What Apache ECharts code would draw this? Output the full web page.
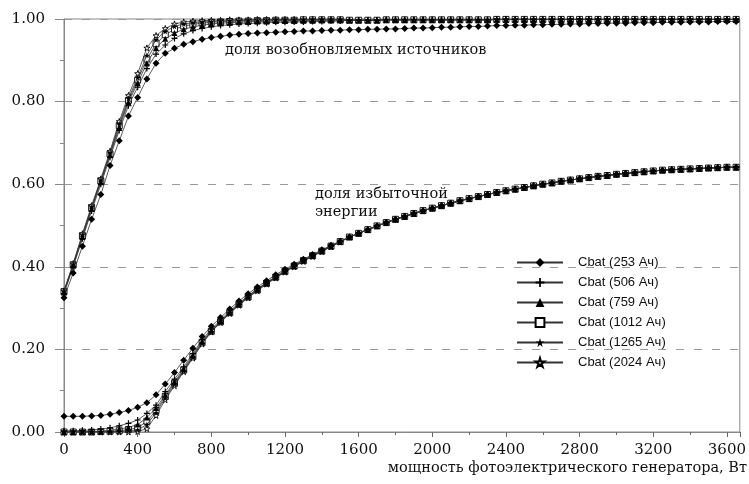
<!DOCTYPE html>
<head>
<meta charset="utf-8">
<title>ECharts</title>
</head>
<body style="margin:0">
<div id="main" style="width: 749px; height: 484px"></div>
<script src="https://cdn.jsdelivr.net/npm/echarts@6/dist/echarts.min.js"></script>
<script>
// мощность ФЭГ, Вт (шаг 50)
var powerW = [0,50,100,150,200,250,300,350,400,450,500,550,600,650,700,750,800,850,900,950,
    1000,1050,1100,1150,1200,1250,1300,1350,1400,1450,1500,1550,1600,1650,1700,1750,1800,1850,1900,1950,
    2000,2050,2100,2150,2200,2250,2300,2350,2400,2450,2500,2550,2600,2650,2700,2750,2800,2850,2900,2950,
    3000,3050,3100,3150,3200,3250,3300,3350,3400,3450,3500,3550,3600,3650];

var batteries = ['Cbat (253 Ач)', 'Cbat (506 Ач)', 'Cbat (759 Ач)', 'Cbat (1012 Ач)', 'Cbat (1265 Ач)', 'Cbat (2024 Ач)'];
var yTicks = [0, 0.2, 0.4, 0.6, 0.8, 1.0];

// доля возобновляемых источников, 0..1500 Вт
var renew253 = [.325,.385,.450,.515,.575,.645,.705,.765,.810,.855,.893,.917,.929,.939,.945,.951,.955,.958,.961,.963,
    .965,.966,.967,.968,.969,.970,.971,.971,.972,.973,.973];
var renew506 = [.335,.400,.468,.535,.600,.665,.730,.790,.835,.880,.915,.937,.953,.964,.972,.977,.981,.984,.986,.988,
    .989,.990,.991,.992,.992,.993,.993,.994,.994,.995,.995];
var renew759 = [.338,.403,.472,.540,.605,.670,.737,.798,.845,.893,.930,.952,.966,.975,.981,.985,.988,.990,.991,.992,
    .993,.994,.994,.995,.995,.996,.996,.996,.997,.997,.997];
var renew1012 = [.340,.405,.475,.543,.608,.673,.742,.803,.852,.903,.940,.962,.975,.983,.987,.990,.992,.993,.994,.995,
    .995,.996,.996,.997,.997,.997,.998,.998,.998,.998,.998];
var renew1265 = [.341,.406,.477,.545,.610,.676,.746,.808,.858,.912,.950,.970,.982,.988,.991,.993,.994,.995,.996,.996,
    .997,.997,.997,.998,.998,.998,.998,.999,.999,.999,.999];
var renew2024 = [.342,.408,.480,.548,.613,.680,.752,.815,.868,.930,.960,.977,.988,.993,.995,.996,.997,.997,.998,.998,
    .998,.999,.999,.999,.999,.999,.999,.999,.999,.999,.999];
// 1550..3650 Вт
var renewTail253 = [.974,.974,.975,.975,.976,.976,.977,.978,.978,.979,.980,.980,.981,.982,.982,.983,.984,.984,.985,.985,
    .986,.986,.987,.987,.988,.988,.989,.989,.990,.990,.990,.991,.991,.991,.992,.992,.992,.993,.993,.993,.994,.994,.994];
var renewTail = [.997,.997,.997,.997,.998,.998,.998,.998,.998,.998,.998,.998,.998,.998,.998,.998,.999,.999,.999,.999,
    .999,.999,.999,.999,.999,.999,.999,.999,.999,.999,.999,.999,.999,.999,.999,.999,.999,.999,.999,.999,.999,.999,.999];

// доля избыточной энергии, 0..1500 Вт
var excess253 = [.038,.038,.038,.039,.040,.043,.047,.052,.060,.071,.090,.116,.144,.174,.203,.231,.256,.277,.298,.317,
    .335,.351,.366,.381,.394,.406,.418,.430,.441,.452,.462];
var excess506 = [.003,.003,.004,.005,.007,.010,.015,.021,.029,.045,.065,.098,.128,.158,.190,.223,.249,.271,.293,.312,
    .330,.347,.362,.377,.391,.403,.416,.428,.439,.450,.461];
var excess759 = [.000,.000,.001,.001,.002,.004,.007,.011,.018,.035,.058,.090,.122,.153,.186,.219,.246,.268,.290,.310,
    .328,.345,.361,.376,.390,.402,.415,.427,.439,.450,.461];
var excess1012 = [.000,.000,.000,.000,.001,.002,.003,.006,.010,.026,.052,.086,.118,.150,.183,.217,.244,.267,.289,.309,
    .327,.344,.360,.375,.389,.402,.415,.427,.438,.450,.461];
var excess1265 = [.000,.000,.000,.000,.000,.001,.001,.003,.005,.018,.047,.082,.115,.148,.181,.215,.243,.266,.288,.308,
    .326,.343,.359,.374,.388,.401,.414,.426,.438,.449,.460];
var excess2024 = [.000,.000,.000,.000,.000,.000,.000,.000,.001,.008,.040,.078,.112,.146,.179,.213,.242,.265,.287,.307,
    .325,.342,.358,.373,.387,.400,.413,.425,.437,.449,.460];
// 1550..3650 Вт
var excessTail = [.472,.481,.490,.499,.507,.515,.522,.529,.536,.542,.548,.554,.560,.565,.570,.575,.580,.584,.588,.592,
    .596,.600,.603,.607,.610,.613,.616,.619,.621,.624,.626,.628,.630,.632,.634,.635,.636,.637,.638,.639,.640,.641,.641];

var renewData = [renew253.concat(renewTail253), renew506.concat(renewTail), renew759.concat(renewTail),
    renew1012.concat(renewTail), renew1265.concat(renewTail), renew2024.concat(renewTail)];
var excessData = [excess253, excess506, excess759, excess1012, excess1265, excess2024].map(function (a) {
    return a.concat(excessTail);
});

var plusPath = 'path://M4,0h2v4h4v2h-4v4h-2v-4h-4v-2h4z';
var starPath = 'path://M50,0L61,35L98,35L68,57L79,91L50,70L21,91L32,57L2,35L39,35Z';
var symbols = ['diamond', plusPath, 'triangle', 'rect', starPath, starPath];
var hollow = [false, false, false, true, false, true];
var serif = 'DejaVu Serif';

function makeSeries(i, vals) {
    return {
        name: batteries[i],
        type: 'line',
        data: powerW.map(function (w, k) { return [w, vals[k]]; }),
        symbol: symbols[i],
        symbolSize: i === 0 ? 7 : 6,
        showAllSymbol: true,
        z: hollow[i] ? 2 : 3,
        lineStyle: {color: '#333', width: 0.8},
        itemStyle: hollow[i] ? {color: '#fff', borderColor: '#000', borderWidth: 0.9} : {color: '#000'},
        emphasis: {disabled: true},
        animation: false
    };
}

var series = [];
for (var i = 0; i < batteries.length; i++) {
    series.push(makeSeries(i, renewData[i]));
    series.push(makeSeries(i, excessData[i]));
}

var myChart = echarts.init(document.getElementById('main'));
myChart.setOption({
    backgroundColor: '#fff',
    grid: {left: 64, right: 2, top: 19, bottom: 52, show: true, borderColor: '#888', borderWidth: 1},
    legend: {
        data: batteries,
        orient: 'vertical',
        left: 516,
        top: 256,
        padding: 0,
        itemWidth: 46,
        itemHeight: 11,
        itemGap: 7,
        textStyle: {fontFamily: 'Liberation Sans', fontSize: 13, color: '#111', padding: [0, 0, 0, 10]}
    },
    xAxis: {
        type: 'value',
        min: 0,
        max: 3670,
        interval: 400,
        axisLine: {lineStyle: {color: '#888'}},
        axisTick: {length: 5, lineStyle: {color: '#666'}},
        minorTick: {show: true, splitNumber: 2, length: 3, lineStyle: {color: '#666'}},
        axisLabel: {
            showMaxLabel: false, fontFamily: serif, fontSize: 15, color: '#111', margin: 11,
            formatter: function (v) { return String(v); }
        },
        splitLine: {show: false}
    },
    yAxis: {
        type: 'value',
        min: yTicks[0],
        max: yTicks[yTicks.length - 1],
        interval: 0.2,
        axisLine: {show: true, lineStyle: {color: '#888'}},
        axisTick: {show: true, length: 9, lineStyle: {color: '#888'}},
        minorTick: {show: true, splitNumber: 2, length: 4, lineStyle: {color: '#888'}},
        axisLabel: {
            fontFamily: serif, fontSize: 15, color: '#111', margin: 19,
            formatter: function (v) { return v.toFixed(2); }
        },
        splitLine: {show: true, lineStyle: {color: '#999', type: [8, 10]}}
    },
    graphic: [
        {type: 'text', left: 225, top: 43, style: {text: 'доля возобновляемых источников', font: '14.5px "DejaVu Serif"', fill: '#111'}},
        {type: 'text', left: 315, top: 185, style: {text: 'доля избыточной\nэнергии', font: '14.5px "DejaVu Serif"', fill: '#111', lineHeight: 18}},
        {type: 'text', right: 2, top: 461, style: {text: 'мощность фотоэлектрического генератора, Вт', font: '14.5px "DejaVu Serif"', fill: '#111'}}
    ],
    series: series
});
</script>
</body>
</html>
